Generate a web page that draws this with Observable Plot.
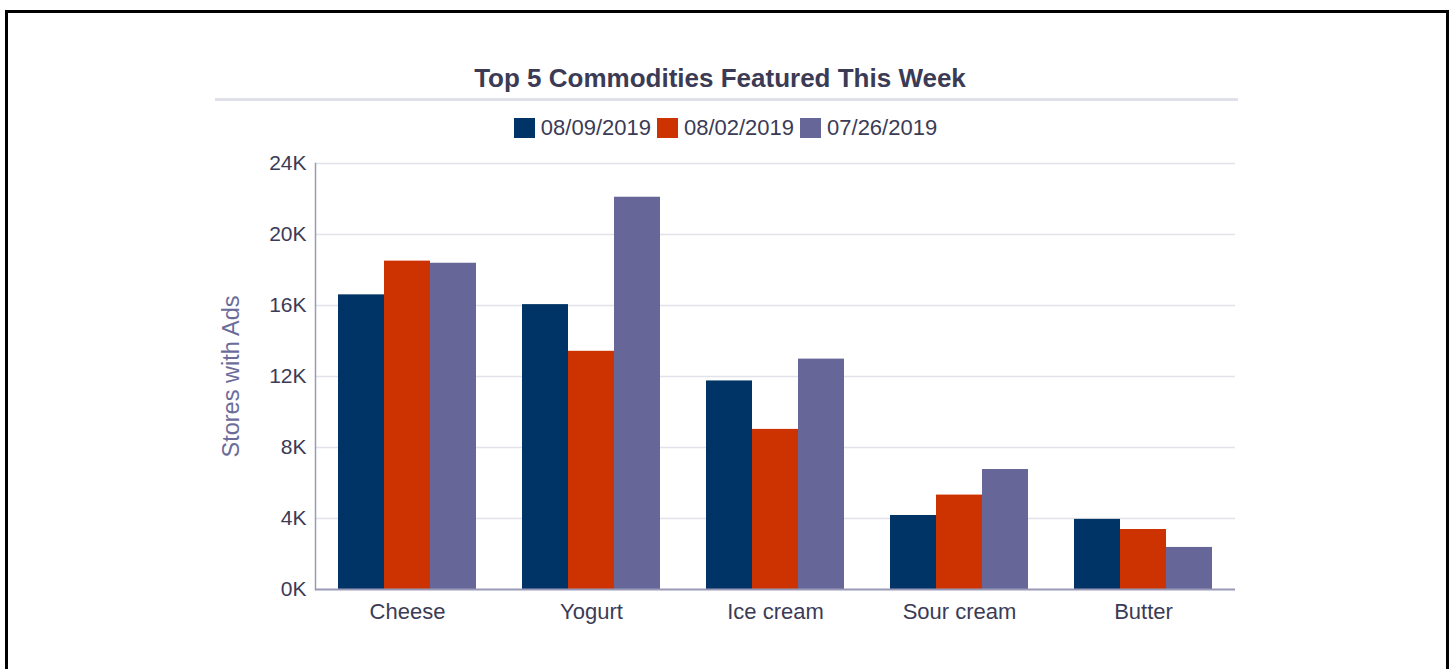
<!DOCTYPE html>
<html>
<head>
<meta charset="utf-8">
<script src="https://cdn.jsdelivr.net/npm/d3@7"></script>
<script src="https://cdn.jsdelivr.net/npm/@observablehq/plot@0.6"></script>
<style>
  html, body { margin: 0; padding: 0; background: #fff; width: 1450px; height: 669px; overflow: hidden; font-family: "Liberation Sans", Arial, sans-serif; }
  #frame { position: absolute; left: 5px; top: 10px; width: 1444px; height: 720px; box-sizing: border-box; border: 3px solid #000; }
  #title { position: absolute; left: 0; width: 1440px; top: 66px; text-align: center; font-size: 26px; line-height: 25px; font-weight: bold; color: #3b3b55; }
  #rule { position: absolute; left: 215px; width: 1023px; top: 98px; height: 3px; background: #e0e0e8; }
  #legend { position: absolute; left: 0; width: 1451px; top: 115px; display: flex; justify-content: center; align-items: center; font-size: 22px; color: #3b3b55; }
  .item { display: flex; align-items: center; margin: 0 3px; }
  .sw { width: 21px; height: 20px; margin-right: 6px; }
  #chart { position: absolute; left: 0; top: 140px; }
</style>
</head>
<body>
<div id="frame"></div>
<div id="title">Top 5 Commodities Featured This Week</div>
<div id="rule"></div>
<div id="legend"></div>
<div id="chart"></div>
<script>
const categories = ["Cheese", "Yogurt", "Ice cream", "Sour cream", "Butter"];
const series = ["08/09/2019", "08/02/2019", "07/26/2019"];
const v20190809 = [16600, 16050, 11750, 4170, 3950];
const v20190802 = [18500, 13420, 9020, 5320, 3380];
const v20190726 = [18380, 22100, 12980, 6760, 2370];
const colors = ["#003366", "#cc3300", "#666699"];
const yTicks = [0, 4000, 8000, 12000, 16000, 20000, 24000];
const yTitle = "Stores with Ads";

const seriesValues = [v20190809, v20190802, v20190726];
const data = [];
categories.forEach((c, i) => {
  series.forEach((s, j) => data.push({category: c, series: s, value: seriesValues[j][i]}));
});

const legend = document.getElementById("legend");
series.forEach((s, j) => {
  const it = document.createElement("div");
  it.className = "item";
  const sw = document.createElement("div");
  sw.className = "sw";
  sw.style.background = colors[j];
  const tx = document.createElement("span");
  tx.textContent = s;
  it.appendChild(sw); it.appendChild(tx);
  legend.appendChild(it);
});

const chart = Plot.plot({
  width: 1450,
  height: 529,
  marginTop: 23,
  marginBottom: 80,
  marginLeft: 314,
  marginRight: 215,
  style: {fontFamily: "Liberation Sans, Arial, sans-serif", background: "transparent", overflow: "visible"},
  fx: {domain: categories, paddingInner: 0, paddingOuter: 0, label: null},
  x: {domain: series, paddingInner: 0, paddingOuter: 0.47, axis: null},
  y: {domain: [0, 24000], label: null},
  color: {domain: series, range: colors},
  marks: [
    Plot.ruleY(yTicks.filter(d => d > 0), {stroke: "#e2e2ea", strokeWidth: 1.5}),
    Plot.barY(data, {fx: "category", x: "series", y: "value", fill: "series"}),
    Plot.ruleY([0], {stroke: "#9a9ab8", strokeWidth: 2}),
    Plot.frame({anchor: "left", facet: "super", stroke: "#9a9ab8", strokeWidth: 1.5}),
    Plot.axisY({ticks: yTicks, tickFormat: d => (d / 1000) + "K", tickSize: 0, tickPadding: 9, fontSize: 21, color: "#3b3b55", label: yTitle, labelAnchor: "center", labelArrow: "none", labelOffset: 93}),
    Plot.axisFx({anchor: "bottom", tickSize: 0, tickPadding: 14, fontSize: 22, color: "#3b3b55", label: null})
  ]
});
document.getElementById("chart").appendChild(chart);
// colour and size the y-axis title
chart.querySelectorAll("[aria-label='y-axis label'] text, [aria-label='y-axis label']").forEach(el => { el.setAttribute("fill", "#6c6c9a"); el.style.fontSize = "23.5px"; });
</script>
</body>
</html>
